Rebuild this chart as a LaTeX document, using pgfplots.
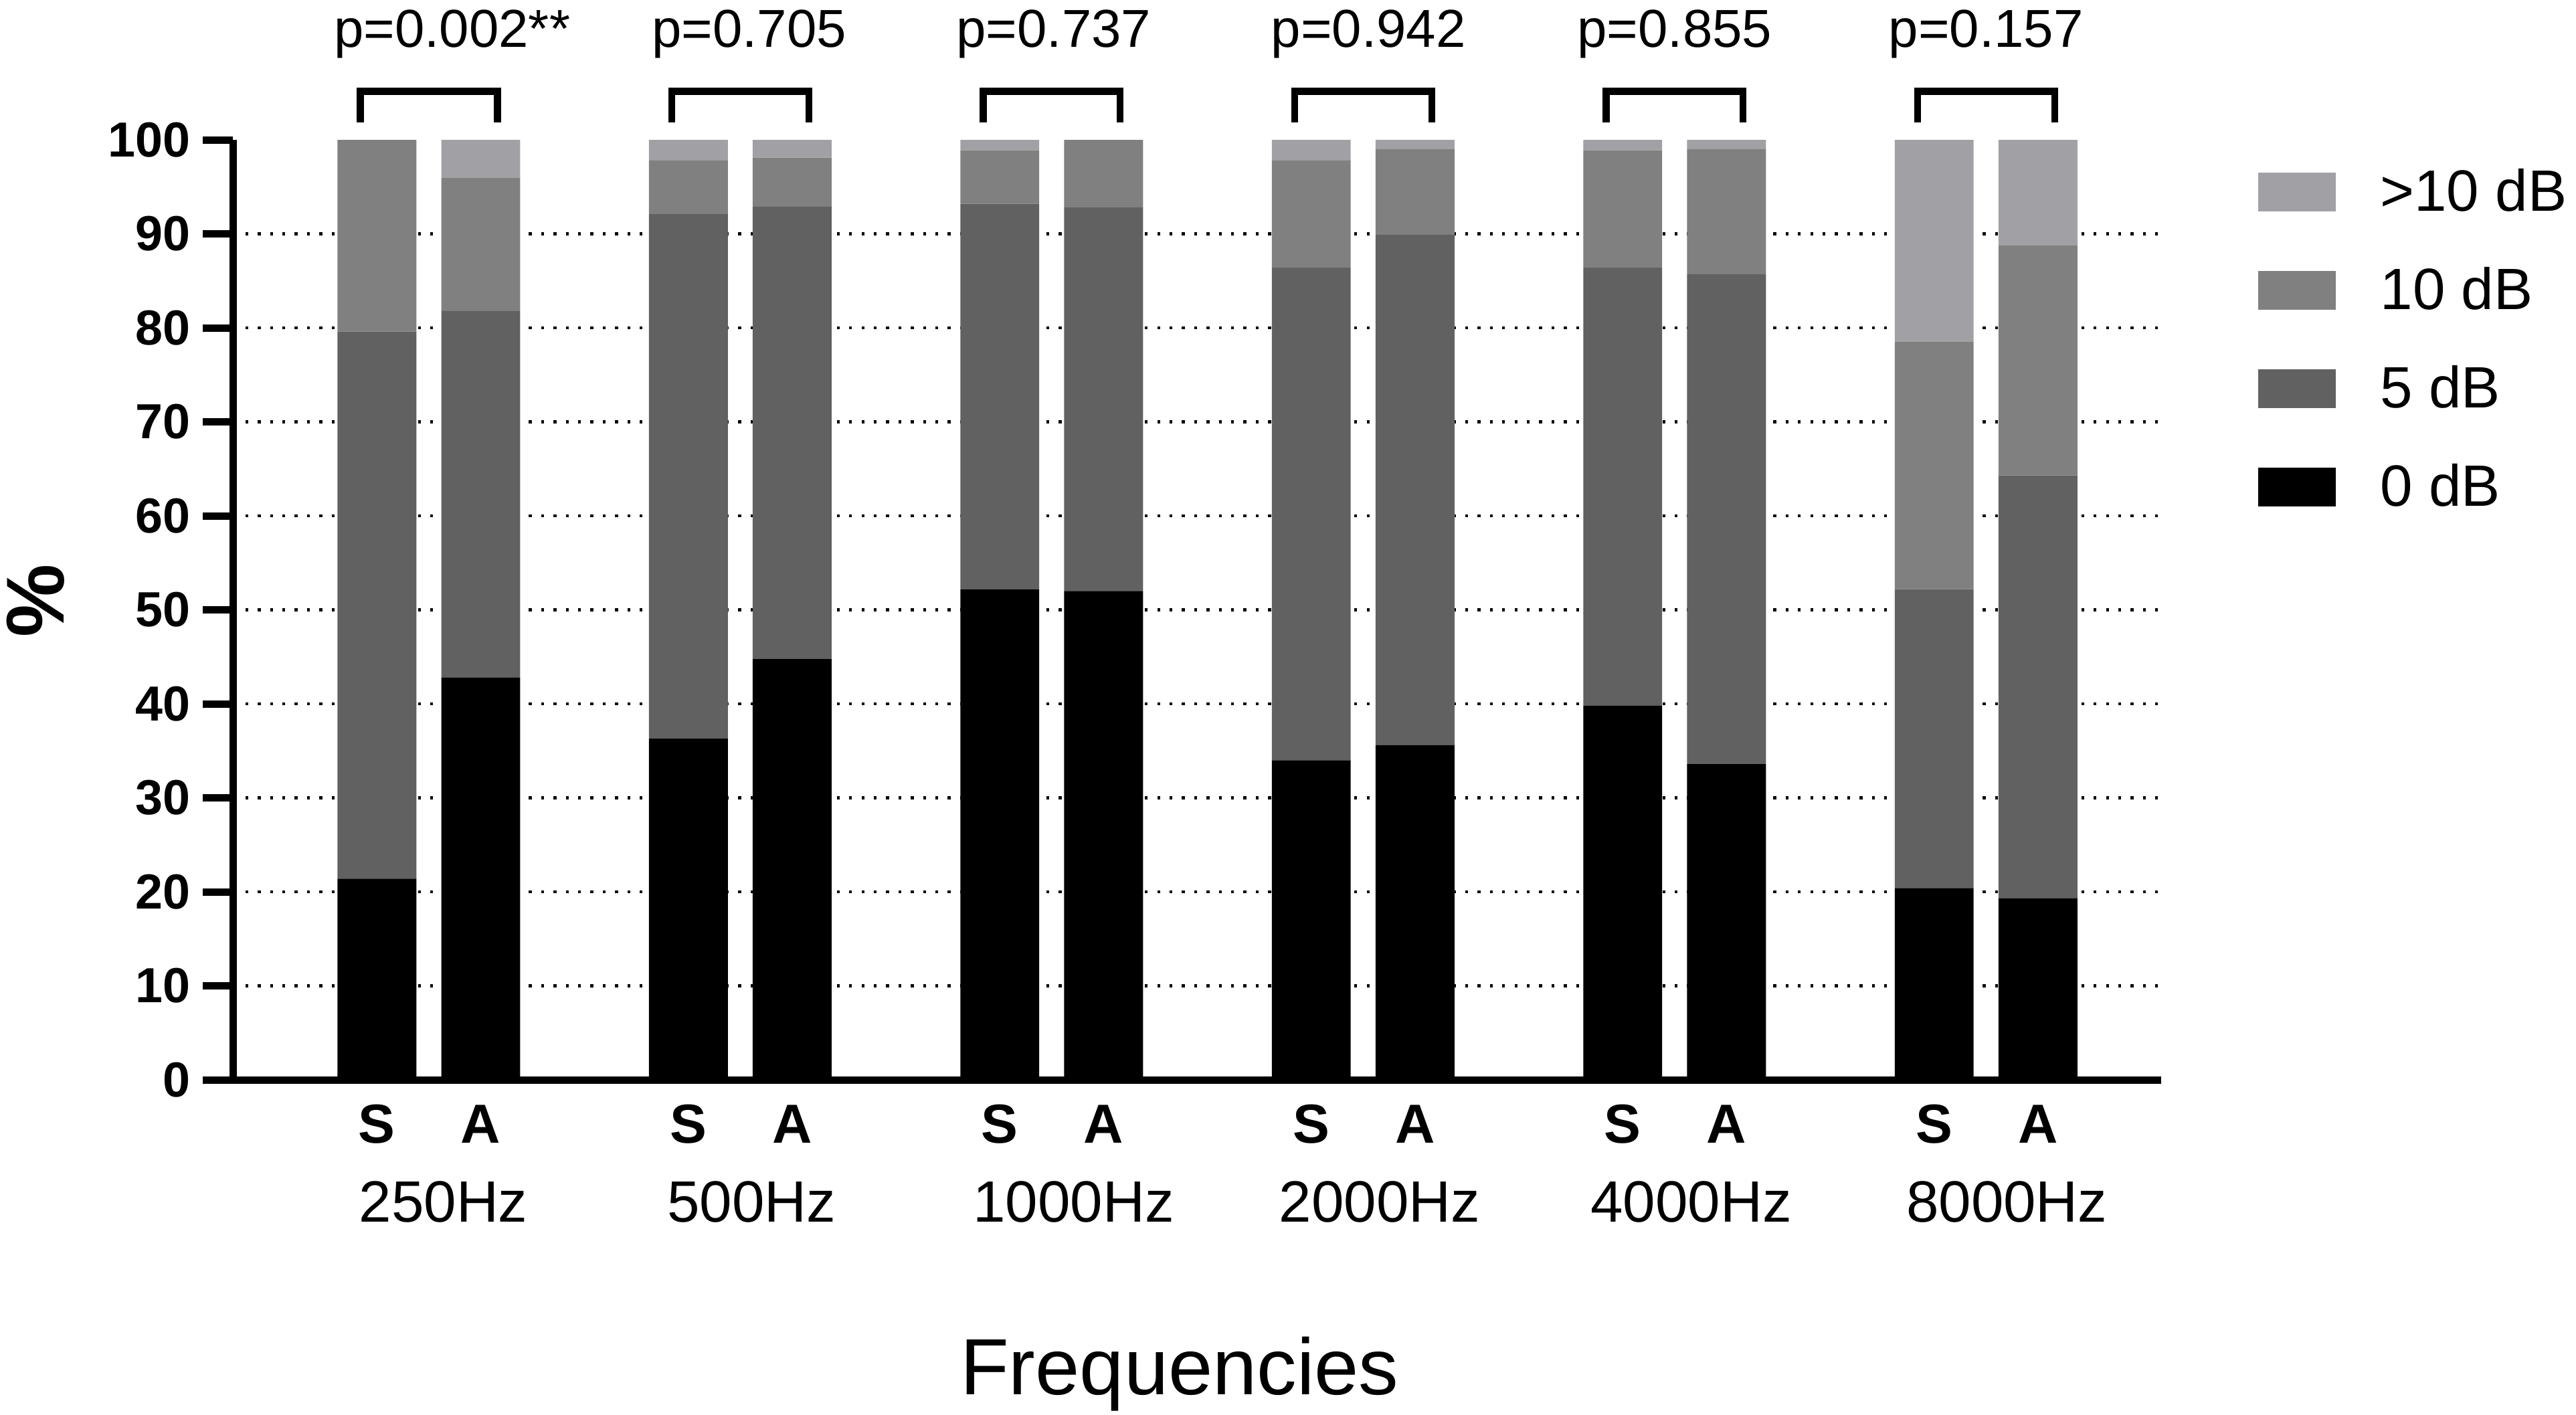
\documentclass[border=0pt]{standalone}
\usepackage{fontspec}
\setmainfont{Liberation Sans}
\usepackage{pgfplots}
\pgfplotsset{compat=1.18}
\usepackage{pgfplotstable}
\definecolor{czero}{RGB}{0,0,0}
\definecolor{cfive}{RGB}{97,97,97}
\definecolor{cten}{RGB}{128,128,128}
\definecolor{cgt}{RGB}{161,161,165}

\pgfplotstableread{
x  d0   d5   d10  dg
0  21.4 58.2 20.4 0
1  42.8 39.0 14.2 4.0
3  36.3 55.8 5.7  2.2
4  44.8 48.1 5.2  1.9
6  52.2 41.0 5.7  1.1
7  52.0 40.8 7.2  0
9  34.0 52.4 11.4 2.2
10 35.6 54.3 9.1  1.0
12 39.8 46.6 12.5 1.1
13 33.6 52.1 13.3 1.0
15 20.4 31.8 26.3 21.5
16 19.3 45.0 24.5 11.2
}\datatable

\begin{document}
\begin{tikzpicture}
\useasboundingbox (-56.76pt,-81.44pt) rectangle (570.44pt,262.96pt);
\begin{axis}[
  at={(0pt,0pt)}, anchor=south west,
  scale only axis, width=469.4pt, height=228.9pt,
  xmin=-1.385, xmax=17.185, ymin=0, ymax=100,
  axis lines*=left,
  axis line style={line width=1.8pt, black},
  ybar stacked, bar width=0.76,
  tick align=outside,
  major tick length=7.4pt,
  ytick={0,10,...,100},
  ytick style={line width=1.8pt, black},
  xtick={0,1,3,4,6,7,9,10,12,13,15,16},
  xticklabels={S,A,S,A,S,A,S,A,S,A,S,A},
  xtick style={draw=none},
  minor ytick={10,20,...,90},
  minor tick length=0pt,
  yminorgrids,
  minor grid style={black, line width=0.7pt, dash pattern=on 0.7pt off 2.3pt},
  /pgf/number format/assume math mode=true,
  yticklabel style={font=\fontsize{12}{14}\selectfont\bfseries, anchor=east, inner sep=0pt, xshift=-2.8pt},
  xticklabel style={font=\fontsize{13.4}{15}\selectfont\bfseries, anchor=base, inner sep=0pt, yshift=-7.9pt},
  extra x ticks={0.64,3.61,6.71,9.66,12.66,15.70},
  extra x tick labels={250Hz,500Hz,1000Hz,2000Hz,4000Hz,8000Hz},
  extra x tick style={xtick style={draw=none}, xticklabel style={font=\fontsize{14.2}{16}\selectfont\mdseries, yshift=-19.3pt}},
  xlabel={Frequencies},
  xlabel style={font=\fontsize{19.4}{22}\selectfont, at={(axis description cs:0.4909,0)}, anchor=base, yshift=-76.6pt},
  ylabel={\%},
  ylabel style={font=\fontsize{20}{22}\selectfont\bfseries, at={(axis description cs:-0.1025,0.51)}, anchor=center},
  clip=false,
  reverse legend,
  legend cell align=left,
  legend style={draw=none, fill=none, at={(axis description cs:1.0505,0.9657)}, anchor=north west,
    inner sep=0pt, outer sep=0pt, row sep=14.4pt, column sep=10.8pt,
    font=\fontsize{14.2}{16}\selectfont,
    nodes={inner sep=0pt, text height=9.5pt, text depth=0pt}},
  legend image code/.code={\path[#1,draw=none] (0pt,-4.8pt) rectangle (18.9pt,4.7pt);},
]
\addplot[fill=czero, draw=none] table[x=x,y=d0]{\datatable};
\addlegendentry{0 dB}
\addplot[fill=cfive, draw=none] table[x=x,y=d5]{\datatable};
\addlegendentry{5 dB}
\addplot[fill=cten, draw=none] table[x=x,y=d10]{\datatable};
\addlegendentry{10 dB}
\addplot[fill=cgt, draw=none] table[x=x,y=dg]{\datatable};
\addlegendentry{>10 dB}

\draw[line width=1.7pt] (axis cs:-0.16,101.87) |- (axis cs:1.16,105.17) -- (axis cs:1.16,101.87);
\draw[line width=1.7pt] (axis cs:2.84,101.87) |- (axis cs:4.16,105.17) -- (axis cs:4.16,101.87);
\draw[line width=1.7pt] (axis cs:5.84,101.87) |- (axis cs:7.16,105.17) -- (axis cs:7.16,101.87);
\draw[line width=1.7pt] (axis cs:8.84,101.87) |- (axis cs:10.16,105.17) -- (axis cs:10.16,101.87);
\draw[line width=1.7pt] (axis cs:11.84,101.87) |- (axis cs:13.16,105.17) -- (axis cs:13.16,101.87);
\draw[line width=1.7pt] (axis cs:14.84,101.87) |- (axis cs:16.16,105.17) -- (axis cs:16.16,101.87);

\node[anchor=base west, inner sep=0pt, font=\fontsize{13}{15}\selectfont] at (axis cs:-0.42,109.84) {p=0.002**};
\node[anchor=base, inner sep=0pt, font=\fontsize{13}{15}\selectfont] at (axis cs:3.585,109.84) {p=0.705};
\node[anchor=base, inner sep=0pt, font=\fontsize{13}{15}\selectfont] at (axis cs:6.52,109.84) {p=0.737};
\node[anchor=base, inner sep=0pt, font=\fontsize{13}{15}\selectfont] at (axis cs:9.55,109.84) {p=0.942};
\node[anchor=base, inner sep=0pt, font=\fontsize{13}{15}\selectfont] at (axis cs:12.50,109.84) {p=0.855};
\node[anchor=base, inner sep=0pt, font=\fontsize{13}{15}\selectfont] at (axis cs:15.50,109.84) {p=0.157};
\end{axis}
\end{tikzpicture}
\end{document}
